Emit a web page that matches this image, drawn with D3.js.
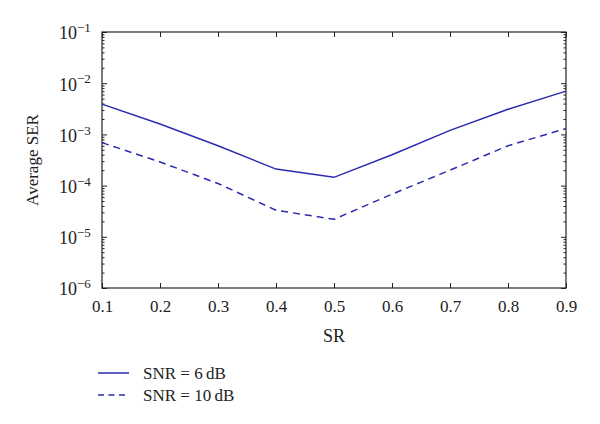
<!DOCTYPE html>
<html>
<head>
<meta charset="utf-8">
<script src="https://cdn.jsdelivr.net/npm/d3@7"></script>
<style>
  body { margin: 0; background: #fff; }
  text { font-family: "Liberation Serif", "DejaVu Serif", serif; fill: #222; }
</style>
</head>
<body>
<div id="chart"></div>
<script>
// data
const sr = [0.1, 0.2, 0.3, 0.4, 0.5, 0.6, 0.7, 0.8, 0.9];
const ser6dB = [3.9e-3, 1.6e-3, 6.0e-4, 2.1e-4, 1.45e-4, 4.0e-4, 1.2e-3, 3.1e-3, 7.0e-3];
const ser10dB = [6.9e-4, 2.9e-4, 1.1e-4, 3.3e-5, 2.2e-5, 6.8e-5, 2.0e-4, 6.0e-4, 1.3e-3];
const seriesNames = ["SNR = 6\u2009dB", "SNR = 10\u2009dB"];
const xTicks = [0.1, 0.2, 0.3, 0.4, 0.5, 0.6, 0.7, 0.8, 0.9];
const yExponents = [-1, -2, -3, -4, -5, -6];

const width = 600;
const height = 424;
const margin = { top: 32, right: 34, bottom: 136, left: 102 };
const innerW = width - margin.left - margin.right;
const innerH = height - margin.top - margin.bottom;
const lineColor = "#2b2bb0";

const svg = d3
	.select("#chart")
	.append("svg")
	.attr("width", width)
	.attr("height", height);

const g = svg.append("g").attr("transform", `translate(${margin.left},${margin.top})`);

const x = d3.scaleLinear().domain([0.1, 0.9]).range([0, innerW]);
const y = d3.scaleLog().domain([1e-6, 1e-1]).range([innerH, 0]);

// minor log ticks
const minor = [];
for (let e = -6; e < -1; e++) {
	for (let k = 2; k <= 9; k++) minor.push(k * Math.pow(10, e));
}

const axisStyle = (sel) => {
	sel.select(".domain").remove();
	sel.selectAll("line").attr("stroke", "#222").attr("stroke-width", 1);
};

// left / right minor ticks
g.append("g").call(d3.axisLeft(y).tickValues(minor).tickSize(-2.5).tickFormat("")).call(axisStyle);
g.append("g")
	.attr("transform", `translate(${innerW},0)`)
	.call(d3.axisRight(y).tickValues(minor).tickSize(-2.5).tickFormat(""))
	.call(axisStyle);

// left / right major ticks
const majorY = yExponents.map((e) => Math.pow(10, e));
const yAxis = g.append("g").call(d3.axisLeft(y).tickValues(majorY).tickSize(-5).tickFormat("")).call(axisStyle);
g.append("g")
	.attr("transform", `translate(${innerW},0)`)
	.call(d3.axisRight(y).tickValues(majorY).tickSize(-5).tickFormat(""))
	.call(axisStyle);

// y tick labels as 10^e
yAxis.selectAll(".tick").each(function (d) {
	const t = d3.select(this).append("text")
		.attr("x", -43)
		.attr("dy", "0.38em")
		.attr("text-anchor", "start")
		.style("font-size", "18px");
	t.append("tspan").text("10");
	t.append("tspan")
		.attr("dy", "-0.55em")
		.style("font-size", "13px")
		.text("\u2212" + Math.round(-Math.log10(d)));
});

// x axis bottom and top
const xAxis = g.append("g")
	.attr("transform", `translate(0,${innerH})`)
	.call(d3.axisBottom(x).tickValues(xTicks).tickSize(-5).tickPadding(12).tickFormat(d3.format(".1f")))
	.call(axisStyle);
xAxis.selectAll("text").style("font-size", "17px");
g.append("g")
	.call(d3.axisTop(x).tickValues(xTicks).tickSize(-5).tickFormat(""))
	.call(axisStyle);

// frame
g.append("rect")
	.attr("width", innerW)
	.attr("height", innerH)
	.attr("fill", "none")
	.attr("stroke", "#222")
	.attr("stroke-width", 1.2);

// axis labels
g.append("text")
	.attr("x", innerW / 2)
	.attr("y", innerH + 54)
	.attr("text-anchor", "middle")
	.style("font-size", "18px")
	.text("SR");

g.append("text")
	.attr("transform", "rotate(-90)")
	.attr("x", -innerH / 2)
	.attr("y", -64)
	.attr("text-anchor", "middle")
	.style("font-size", "17px")
	.text("Average SER");

// lines
const line = d3
	.line()
	.x((d, i) => x(sr[i]))
	.y((d) => y(d));

const series = [
	{ name: seriesNames[0], values: ser6dB, dash: null },
	{ name: seriesNames[1], values: ser10dB, dash: "7,5" },
];

series.forEach((s) => {
	g.append("path")
		.datum(s.values)
		.attr("fill", "none")
		.attr("stroke", lineColor)
		.attr("stroke-width", 1.5)
		.attr("stroke-dasharray", s.dash)
		.attr("d", line);
});

// legend
const legend = svg.append("g").attr("transform", "translate(98,373)");
series.forEach((s, i) => {
	const row = legend.append("g").attr("transform", `translate(0,${i * 22})`);
	row.append("line")
		.attr("x1", 0)
		.attr("x2", 31)
		.attr("stroke", lineColor)
		.attr("stroke-width", 1.5)
		.attr("stroke-dasharray", s.dash ? "6,4.5" : null);
	row.append("text")
		.attr("x", 45)
		.attr("dy", "0.35em")
		.style("font-size", "17px")
		.text(s.name);
});
</script>
</body>
</html>
